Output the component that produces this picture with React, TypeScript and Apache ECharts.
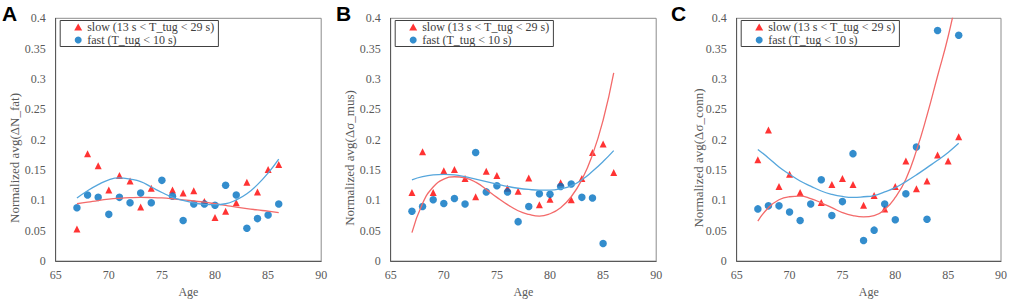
import { useEffect, useRef } from "react";
import * as echarts from "echarts";

// ---------- data ----------
const AGES = [67, 68, 69, 70, 71, 72, 73, 74, 75, 76, 77, 78, 79, 80, 81, 82, 83, 84, 85, 86];

const SLOW_NAME = "slow (13 s < T_tug < 29 s)";
const FAST_NAME = "fast (T_tug < 10 s)";

const X_TICKS = [65, 70, 75, 80, 85, 90];
const Y_MIN = 0;
const Y_MAX = 0.4;
const Y_STEP = 0.05;

// Panel A : ΔN_fat
const A_SLOW = [0.053, 0.177, 0.157, 0.117, 0.141, 0.132, 0.089, 0.12, null, 0.117, 0.112, 0.116, 0.098, 0.072, 0.082, 0.096, 0.13, 0.114, 0.151, 0.159];
const A_FAST = [0.088, 0.109, 0.105, 0.077, 0.105, 0.096, 0.112, 0.096, 0.133, 0.107, 0.067, 0.094, 0.094, 0.092, 0.125, 0.109, 0.054, 0.07, 0.076, 0.094];
const A_SLOW_TREND = [0.0945, 0.097, 0.0998, 0.102, 0.1035, 0.1045, 0.105, 0.1047, 0.104, 0.1027, 0.101, 0.099, 0.097, 0.0945, 0.0918, 0.089, 0.0865, 0.0843, 0.0822, 0.0797];
const A_FAST_TREND = [0.104, 0.116, 0.126, 0.134, 0.137, 0.135, 0.131, 0.122, 0.113, 0.105, 0.1, 0.096, 0.0934, 0.093, 0.0945, 0.101, 0.111, 0.126, 0.145, 0.168];

// Panel B : Δσ_mus
const B_SLOW = [0.113, 0.18, 0.113, 0.149, 0.151, 0.136, 0.106, 0.148, 0.141, 0.12, 0.115, 0.137, 0.093, 0.102, 0.129, 0.101, 0.136, 0.179, 0.193, 0.146];
const B_FAST = [0.082, 0.09, 0.101, 0.095, 0.103, 0.094, 0.179, 0.114, 0.124, 0.114, 0.065, 0.09, 0.111, 0.11, 0.123, 0.127, 0.105, 0.104, 0.029, null];
const B_SLOW_TREND = [0.047, 0.095, 0.122, 0.135, 0.139, 0.137, 0.13, 0.118, 0.105, 0.093, 0.083, 0.077, 0.074, 0.078, 0.088, 0.106, 0.134, 0.175, 0.232, 0.31];
const B_FAST_TREND = [0.134, 0.139, 0.142, 0.143, 0.142, 0.139, 0.135, 0.131, 0.127, 0.123, 0.12, 0.118, 0.117, 0.117, 0.119, 0.124, 0.134, 0.148, 0.164, 0.182];

// Panel C : Δσ_conn
const C_SLOW = [0.167, 0.216, 0.123, 0.143, 0.113, null, 0.0965, 0.126, 0.136, 0.126, 0.092, 0.108, 0.086, 0.123, 0.165, 0.119, 0.132, 0.175, 0.165, 0.205];
const C_FAST = [0.086, 0.091, 0.091, 0.081, 0.067, 0.094, 0.134, 0.075, 0.098, 0.177, 0.034, 0.051, 0.094, 0.068, 0.111, 0.188, 0.069, 0.38, null, 0.372];
const C_SLOW_TREND = [0.066, 0.088, 0.101, 0.106, 0.107, 0.103, 0.096, 0.088, 0.08, 0.075, 0.073, 0.075, 0.085, 0.105, 0.135, 0.182, 0.24, 0.305, 0.37, 0.45];
const C_FAST_TREND = [0.184, 0.17, 0.155, 0.143, 0.132, 0.1235, 0.1155, 0.11, 0.1065, 0.105, 0.106, 0.108, 0.114, 0.121, 0.131, 0.142, 0.154, 0.166, 0.179, 0.194];

const PANEL_LETTERS = ["A", "B", "C"];
const Y_TITLES = ["Normalized avg(ΔN_fat)", "Normalized avg(Δσ_mus)", "Normalized avg(Δσ_conn)"];
const X_TITLE = "Age";

const PANELS = [
  { slow: A_SLOW, fast: A_FAST, slowTrend: A_SLOW_TREND, fastTrend: A_FAST_TREND },
  { slow: B_SLOW, fast: B_FAST, slowTrend: B_SLOW_TREND, fastTrend: B_FAST_TREND },
  { slow: C_SLOW, fast: C_FAST, slowTrend: C_SLOW_TREND, fastTrend: C_FAST_TREND },
];

// ---------- layout / style ----------
const GRID_LEFT = [55.7, 390.7, 736.7];
const GRID_TOP = 18.3;
const GRID_W = 265.5;
const GRID_H = 251.7;
const LETTER_X = [2, 336, 671];
const YTITLE_X = [14, 349, 698];
const YTITLE_Y = 158;

const SERIF = "Liberation Serif";
const SANS = "Liberation Sans";
const AXIS_COLOR = "#595959";
const RED = "#FF0000";
const BLUE = "#0070C0";
const RED_LINE = "#F36A6A";
const BLUE_LINE = "#56A6DC";

function pairs(values: (number | null)[]) {
  const out: [number, number][] = [];
  values.forEach((v, i) => {
    if (v !== null) out.push([AGES[i], v]);
  });
  return out;
}

export default function App() {
  const ref = useRef<HTMLDivElement>(null);

  useEffect(() => {
    if (!ref.current) return;
    const chart = echarts.init(ref.current, null, { renderer: "svg" });

    const grid = GRID_LEFT.map((l) => ({
      left: l,
      top: GRID_TOP,
      width: GRID_W,
      height: GRID_H,
      show: true,
      borderColor: "#8c8c8c",
      borderWidth: 1,
      backgroundColor: "transparent",
    }));

    const xAxis = GRID_LEFT.map((_, i) => ({
      type: "value",
      gridIndex: i,
      min: X_TICKS[0],
      max: X_TICKS[X_TICKS.length - 1],
      interval: X_TICKS[1] - X_TICKS[0],
      axisLine: { show: true, onZero: false, lineStyle: { color: AXIS_COLOR, width: 1 } },
      axisTick: { show: false },
      splitLine: { show: false },
      axisLabel: { color: AXIS_COLOR, fontFamily: SERIF, fontSize: 12, margin: 8 },
      name: X_TITLE,
      nameLocation: "middle",
      nameGap: 19,
      nameTextStyle: { color: AXIS_COLOR, fontFamily: SERIF, fontSize: 12 },
    }));

    const yAxis = GRID_LEFT.map((_, i) => ({
      type: "value",
      gridIndex: i,
      min: Y_MIN,
      max: Y_MAX,
      interval: Y_STEP,
      axisLine: { show: true, onZero: false, lineStyle: { color: AXIS_COLOR, width: 1 } },
      axisTick: { show: false },
      splitLine: { show: false },
      axisLabel: { color: AXIS_COLOR, fontFamily: SERIF, fontSize: 12, margin: 10 },
    }));

    const series: any[] = [];
    PANELS.forEach((p, i) => {
      series.push({
        type: "scatter",
        name: SLOW_NAME,
        xAxisIndex: i,
        yAxisIndex: i,
        symbol: "triangle",
        symbolSize: 7,
        itemStyle: { color: RED },
        data: pairs(p.slow),
        silent: true,
        z: 2,
      });
      series.push({
        type: "scatter",
        name: FAST_NAME,
        xAxisIndex: i,
        yAxisIndex: i,
        symbol: "circle",
        symbolSize: 7.5,
        itemStyle: { color: BLUE },
        data: pairs(p.fast),
        silent: true,
        z: 2,
      });
      series.push({
        type: "line",
        name: "slow trend",
        xAxisIndex: i,
        yAxisIndex: i,
        smooth: true,
        showSymbol: false,
        clip: true,
        lineStyle: { color: RED_LINE, width: 1.3 },
        data: pairs(p.slowTrend),
        silent: true,
        z: 3,
      });
      series.push({
        type: "line",
        name: "fast trend",
        xAxisIndex: i,
        yAxisIndex: i,
        smooth: true,
        showSymbol: false,
        clip: true,
        lineStyle: { color: BLUE_LINE, width: 1.3 },
        data: pairs(p.fastTrend),
        silent: true,
        z: 3,
      });
    });

    const legend = GRID_LEFT.map((l) => ({
      left: l + 4.5,
      top: 20.5,
      orient: "vertical",
      data: [
        { name: SLOW_NAME, icon: "triangle" },
        { name: FAST_NAME, icon: "circle" },
      ],
      itemWidth: 8,
      itemHeight: 7,
      itemGap: 0,
      padding: [0, 4, 0, 14],
      borderColor: "#404040",
      borderWidth: 1,
      backgroundColor: "#ffffff",
      selectedMode: false,
      textStyle: { fontFamily: SERIF, fontSize: 12, color: "#404040", lineHeight: 13 },
    }));

    const graphic: any[] = [];
    PANEL_LETTERS.forEach((t, i) => {
      graphic.push({
        type: "text",
        x: LETTER_X[i],
        y: 13,
        style: {
          text: t,
          fontFamily: SANS,
          fontWeight: "bold",
          fontSize: 21,
          fill: "#000000",
          align: "left",
          verticalAlign: "middle",
        },
      });
      graphic.push({
        type: "text",
        x: YTITLE_X[i],
        y: YTITLE_Y,
        rotation: Math.PI / 2,
        style: {
          text: Y_TITLES[i],
          fontFamily: SERIF,
          fontSize: 13,
          fill: AXIS_COLOR,
          align: "center",
          verticalAlign: "middle",
        },
      });
    });

    chart.setOption({
      animation: false,
      backgroundColor: "#ffffff",
      grid,
      xAxis,
      yAxis,
      legend,
      series,
      graphic,
    });

    return () => chart.dispose();
  }, []);

  return (
    <div
      ref={ref}
      style={{ position: "fixed", left: 0, top: 0, width: 1010, height: 303 }}
    />
  );
}
